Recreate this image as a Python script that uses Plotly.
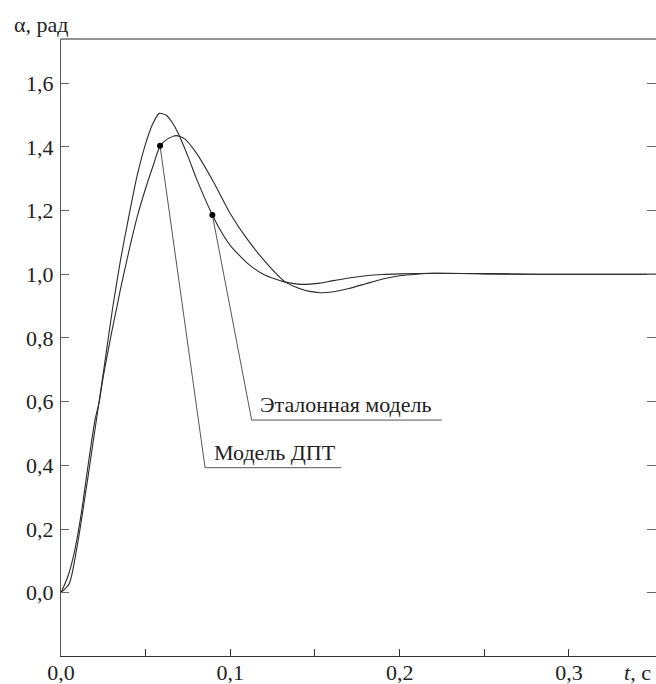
import plotly.graph_objects as go

# ---- data ----
t_ref = [0.0, 0.005, 0.01, 0.015, 0.02, 0.025, 0.0305, 0.035, 0.04, 0.045, 0.05, 0.054,
         0.058, 0.062, 0.066, 0.069, 0.075, 0.08, 0.0894, 0.095, 0.10, 0.11, 0.12, 0.132,
         0.14, 0.145, 0.153, 0.16, 0.17, 0.18, 0.19, 0.20, 0.22, 0.25, 0.28, 0.36]
y_ref = [0.0, 0.03, 0.16, 0.33, 0.51, 0.69, 0.894, 1.04, 1.18, 1.31, 1.41, 1.47,
         1.505, 1.500, 1.474, 1.445, 1.37, 1.30, 1.186, 1.13, 1.09, 1.035, 0.998, 0.976,
         0.969, 0.968, 0.972, 0.979, 0.988, 0.995, 0.999, 1.001, 1.003, 1.001, 1.0, 1.0]

t_dpt = [0.0, 0.004, 0.008, 0.012, 0.016, 0.02, 0.0226, 0.025, 0.03, 0.0329, 0.035, 0.04, 0.045,
         0.05, 0.055, 0.0585, 0.063, 0.068, 0.073, 0.08, 0.09, 0.10, 0.11, 0.1215, 0.1323,
         0.14, 0.147, 0.153, 0.16, 0.17, 0.18, 0.19, 0.20, 0.21, 0.22, 0.25, 0.28, 0.36]
y_dpt = [0.0, 0.05, 0.13, 0.25, 0.40, 0.54, 0.60, 0.68, 0.82, 0.894, 0.95, 1.07, 1.18,
         1.27, 1.35, 1.403, 1.425, 1.435, 1.425, 1.38, 1.29, 1.19, 1.11, 1.034, 0.976,
         0.957, 0.946, 0.942, 0.944, 0.955, 0.97, 0.985, 0.995, 1.0, 1.003, 1.002, 1.0, 1.0]

# marked points and label leaders
mark_t = [0.0585, 0.0894]
mark_y = [1.403, 1.186]
labels = ["Модель ДПТ", "Эталонная модель"]
label_x0 = [0.0851, 0.1126]
label_x1 = [0.1654, 0.2249]
label_y = [0.3925, 0.542]

y_ticks = [0.0, 0.2, 0.4, 0.6, 0.8, 1.0, 1.2, 1.4, 1.6]
y_ticktext = ["0,0", "0,2", "0,4", "0,6", "0,8", "1,0", "1,2", "1,4", "1,6"]
x_ticks = [0.0, 0.05, 0.1, 0.15, 0.2, 0.25, 0.3]
x_ticktext = ["0,0", "", "0,1", "", "0,2", "", "0,3"]

FONT = "Liberation Serif, Times New Roman, DejaVu Serif, serif"
FS = 22
CURVE = "#2a2a2a"
GRAY = "#555555"

fig = go.Figure()
fig.add_trace(go.Scatter(x=t_ref, y=y_ref, mode="lines",
                         line=dict(color=CURVE, width=1.1, shape="spline", smoothing=0.6),
                         name="Эталонная модель", hoverinfo="skip"))
fig.add_trace(go.Scatter(x=t_dpt, y=y_dpt, mode="lines",
                         line=dict(color=CURVE, width=1.1, shape="spline", smoothing=0.6),
                         name="Модель ДПТ", hoverinfo="skip"))

# leader lines (marker -> label underline start -> underline end)
for i in range(2):
    fig.add_trace(go.Scatter(x=[mark_t[i], label_x0[i], label_x1[i]],
                             y=[mark_y[i], label_y[i], label_y[i]],
                             mode="lines", line=dict(color=GRAY, width=1), hoverinfo="skip"))
    fig.add_annotation(x=label_x0[i] + 0.004, y=label_y[i], text=labels[i], showarrow=False,
                       xanchor="left", yanchor="bottom", yshift=1,
                       font=dict(family=FONT, size=FS, color="#222"))

fig.add_trace(go.Scatter(x=mark_t, y=mark_y, mode="markers",
                         marker=dict(color="black", size=6), hoverinfo="skip"))

# carrier for right-side ticks
fig.add_trace(go.Scatter(x=[0.1], y=[0.5], yaxis="y2", mode="markers",
                         marker=dict(opacity=0), hoverinfo="skip"))

X_RANGE = [0.0, 0.3514]
Y_RANGE = [-0.1987, 1.7385]

fig.update_layout(
    width=656, height=684,
    margin=dict(l=61, r=0, t=39, b=28, autoexpand=False),
    plot_bgcolor="white", paper_bgcolor="white",
    showlegend=False,
    xaxis=dict(range=X_RANGE, tickvals=x_ticks, ticktext=x_ticktext, ticks="inside", ticklen=7,
               tickcolor="#333", tickwidth=1, showline=True, linecolor="#333", linewidth=1,
               showgrid=False, zeroline=False, ticklabelstandoff=-3, automargin=False,
               tickfont=dict(family=FONT, size=FS, color="#222")),
    yaxis=dict(range=Y_RANGE, tickvals=y_ticks, ticktext=y_ticktext, ticks="inside", ticklen=8,
               tickcolor="#666", tickwidth=1, showline=True, linecolor="#555", linewidth=1,
               showgrid=False, zeroline=False, ticklabelstandoff=2, automargin=False,
               tickfont=dict(family=FONT, size=FS, color="#222")),
    yaxis2=dict(range=Y_RANGE, overlaying="y", side="right", tickvals=y_ticks, showticklabels=False,
                ticks="inside", ticklen=9, tickcolor="#666", tickwidth=1, showline=False,
                showgrid=False, zeroline=False, automargin=False),
    shapes=[dict(type="line", xref="paper", yref="paper", x0=0, x1=1, y0=1, y1=1,
                 line=dict(color="#222", width=1))],
)

fig.add_annotation(xref="paper", yref="paper", x=-0.0824, y=1.024, xanchor="left", yanchor="middle",
                   text="α, рад", showarrow=False, font=dict(family=FONT, size=FS, color="#222"))
fig.add_annotation(xref="paper", yref="paper", x=0.943, y=-0.026, xanchor="left", yanchor="middle",
                   text="<i>t</i>, с", showarrow=False, font=dict(family=FONT, size=FS, color="#222"))

fig.write_html("out.html", config={"displayModeBar": False},
               post_script="document.body.style.margin='0';document.body.style.overflow='hidden';")
